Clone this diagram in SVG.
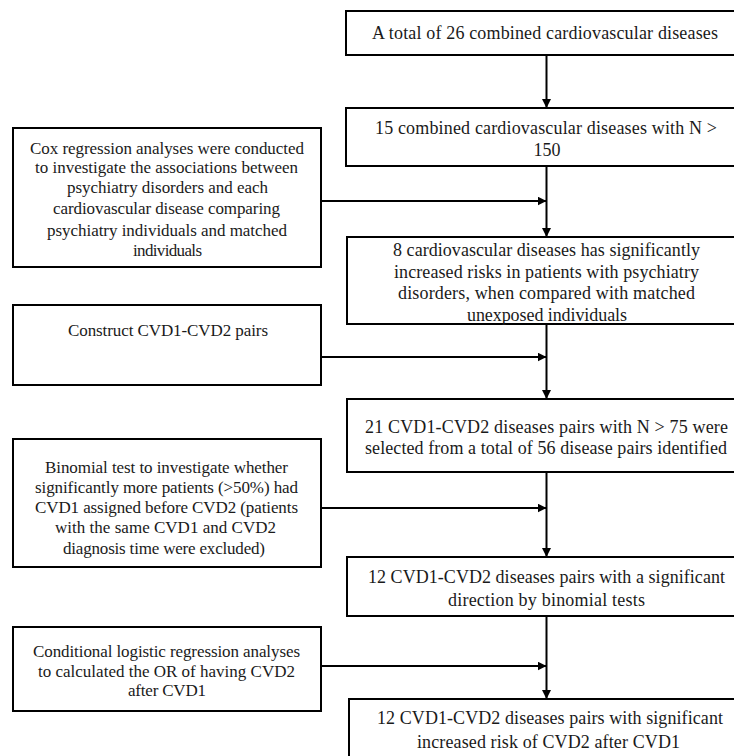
<svg xmlns="http://www.w3.org/2000/svg" width="734" height="756" viewBox="0 0 734 756">
<style>
.box{fill:#fff;stroke:#000;stroke-width:2}
.c{stroke:#000;stroke-width:2;fill:none}
</style>
<defs>
<marker id="ah" viewBox="0 0 10 10" refX="10" refY="5" markerWidth="4.5" markerHeight="4.5" orient="auto" markerUnits="strokeWidth">
<path d="M0,0 L10,5 L0,10 z" fill="#000"/>
</marker>
</defs>
<rect width="734" height="756" fill="#fff"/>
<g id="connectors">
<line class="c" x1="546.5" y1="55" x2="546.5" y2="108" marker-end="url(#ah)"/>
<line class="c" x1="546.5" y1="166" x2="546.5" y2="237" marker-end="url(#ah)"/>
<line class="c" x1="546.5" y1="324" x2="546.5" y2="399" marker-end="url(#ah)"/>
<line class="c" x1="546.5" y1="472" x2="546.5" y2="557" marker-end="url(#ah)"/>
<line class="c" x1="546.5" y1="616" x2="546.5" y2="699" marker-end="url(#ah)"/>
<line class="c" x1="321" y1="201" x2="546.5" y2="201" marker-end="url(#ah)"/>
<line class="c" x1="321" y1="357" x2="546.5" y2="357" marker-end="url(#ah)"/>
<line class="c" x1="321" y1="508" x2="546.5" y2="508" marker-end="url(#ah)"/>
<line class="c" x1="321" y1="666" x2="546.5" y2="666" marker-end="url(#ah)"/>
</g>
<g font-family="Liberation Serif, Times New Roman, Tinos, serif" fill="#1a1a1a" text-anchor="middle">
<g id="n1" font-size="18">
<rect class="box" x="346" y="11" width="400" height="44"/>
<text x="545" y="39" textLength="346" lengthAdjust="spacing">A total of 26 combined cardiovascular diseases</text>
</g>
<g id="n2" font-size="18">
<rect class="box" x="346" y="108" width="400" height="58"/>
<text x="546" y="134" textLength="342" lengthAdjust="spacing">15 combined cardiovascular diseases with N &gt;</text>
<text x="547" y="156">150</text>
</g>
<g id="n3" font-size="18">
<rect class="box" x="347" y="237" width="400" height="87"/>
<text x="546.5" y="256" textLength="307" lengthAdjust="spacing">8 cardiovascular diseases has significantly</text>
<text x="546.5" y="278" textLength="305" lengthAdjust="spacing">increased risks in patients with psychiatry</text>
<text x="546.5" y="299" textLength="297" lengthAdjust="spacing">disorders, when compared with matched</text>
<text x="547" y="321" textLength="160" lengthAdjust="spacing">unexposed individuals</text>
</g>
<g id="n4" font-size="18">
<rect class="box" x="347" y="399" width="400" height="73"/>
<text x="546.5" y="433" textLength="363" lengthAdjust="spacing">21 CVD1-CVD2 diseases pairs with N &gt; 75 were</text>
<text x="546" y="454" textLength="362" lengthAdjust="spacing">selected from a total of 56 disease pairs identified</text>
</g>
<g id="n5" font-size="18">
<rect class="box" x="347" y="557" width="400" height="59"/>
<text x="546.5" y="583" textLength="357" lengthAdjust="spacing">12 CVD1-CVD2 diseases pairs with a significant</text>
<text x="546.5" y="606" textLength="197" lengthAdjust="spacing">direction by binomial tests</text>
</g>
<g id="n6" font-size="18">
<rect class="box" x="349" y="699" width="400" height="62"/>
<text x="550" y="724" textLength="346" lengthAdjust="spacing">12 CVD1-CVD2 diseases pairs with significant</text>
<text x="548.5" y="748" textLength="263" lengthAdjust="spacing">increased risk of CVD2 after CVD1</text>
</g>
<g id="cox" font-size="17">
<rect class="box" x="13" y="128" width="308" height="139"/>
<text x="167" y="154" textLength="274" lengthAdjust="spacing">Cox regression analyses were conducted</text>
<text x="166.5" y="173" textLength="263" lengthAdjust="spacing">to investigate the associations between</text>
<text x="167.5" y="193" textLength="201" lengthAdjust="spacing">psychiatry disorders and each</text>
<text x="166.5" y="214" textLength="227" lengthAdjust="spacing">cardiovascular disease comparing</text>
<text x="167" y="236" textLength="240" lengthAdjust="spacing">psychiatry individuals and matched</text>
<text x="167.5" y="256" textLength="69" lengthAdjust="spacing">individuals</text>
</g>
<g id="construct" font-size="17">
<rect class="box" x="13" y="305" width="308" height="80"/>
<text x="168" y="336" textLength="200" lengthAdjust="spacing">Construct CVD1-CVD2 pairs</text>
</g>
<g id="binomial" font-size="17">
<rect class="box" x="13" y="439" width="308" height="128"/>
<text x="166.5" y="473" textLength="243" lengthAdjust="spacing">Binomial test to investigate whether</text>
<text x="166.5" y="493" textLength="263" lengthAdjust="spacing">significantly more patients (&gt;50%) had</text>
<text x="166.5" y="513" textLength="263" lengthAdjust="spacing">CVD1 assigned before CVD2 (patients</text>
<text x="165.5" y="533" textLength="221" lengthAdjust="spacing">with the same CVD1 and CVD2</text>
<text x="164" y="554" textLength="202" lengthAdjust="spacing">diagnosis time were excluded)</text>
</g>
<g id="conditional" font-size="17">
<rect class="box" x="13" y="627" width="308" height="84"/>
<text x="166.5" y="657" textLength="267" lengthAdjust="spacing">Conditional logistic regression analyses</text>
<text x="166.5" y="677" textLength="257" lengthAdjust="spacing">to calculated the OR of having CVD2</text>
<text x="167" y="696" textLength="78" lengthAdjust="spacing">after CVD1</text>
</g>
</g>
</svg>
